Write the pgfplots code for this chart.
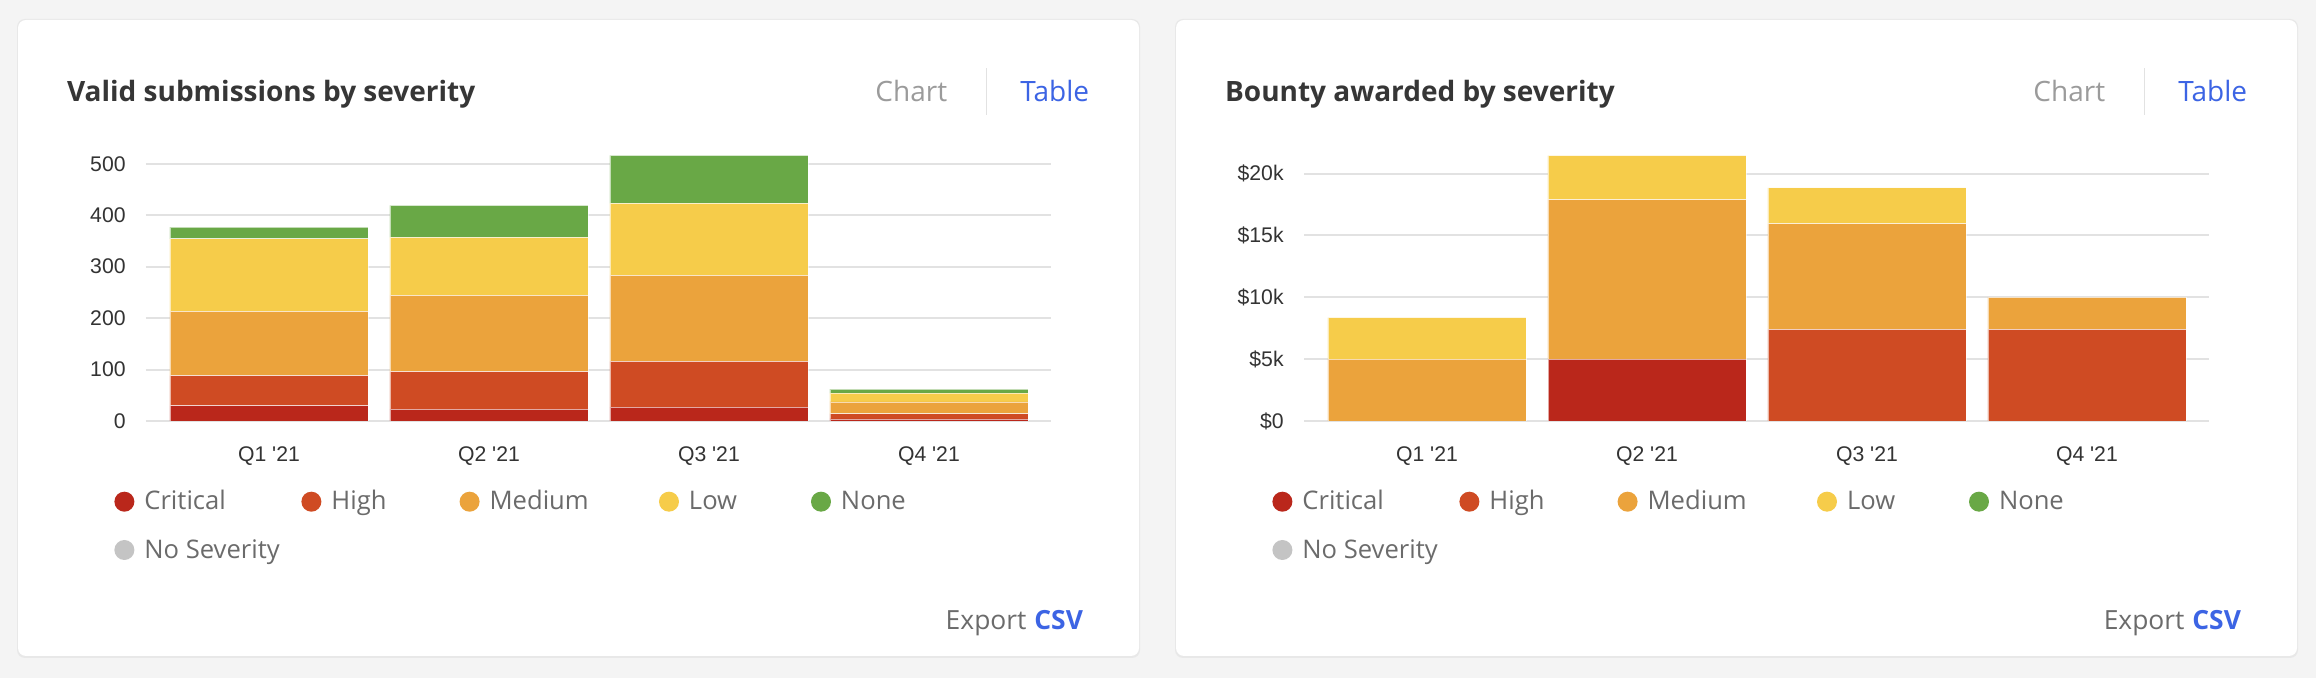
\documentclass[border=0pt]{standalone}
\usepackage{pgfplots}
\pgfplotsset{compat=1.18}
\usepackage{fontspec}
\newfontfamily\uifont{Open Sans}
\newfontfamily\tickfont{Liberation Sans}
\definecolor{critc}{HTML}{BA271B}
\definecolor{highc}{HTML}{CF4B23}
\definecolor{medc}{HTML}{EBA33C}
\definecolor{lowc}{HTML}{F6CC4A}
\definecolor{nonec}{HTML}{69A846}
\definecolor{nosevc}{HTML}{C4C4C4}
\definecolor{bluec}{HTML}{3C64E4}
\definecolor{titlec}{HTML}{363636}
\definecolor{legtext}{HTML}{6B6B6B}
\definecolor{chartc}{HTML}{9B9B9B}
\definecolor{gridc}{HTML}{E2E2E2}
\definecolor{bgc}{HTML}{F4F4F4}
\definecolor{tickc}{HTML}{333333}
\newcommand\legdot[1]{\addlegendimage{legend image code/.code={\fill[#1, draw=none] (0pt,0pt) circle (5pt); \path[draw=none, fill=none] (-5pt,0pt) -- (10pt,0pt);}}}
\pgfplotsset{
  cardaxis/.style={
    width=452.5pt, height=132.75pt, scale only axis, anchor=south west,
    xmin=-0.559, xmax=3.555, ymin=0,
    ybar stacked, bar width=0.9,
    xtick={0,1,2,3},
    xticklabels={Q1 \textquotesingle21,Q2 \textquotesingle21,Q3 \textquotesingle21,Q4 \textquotesingle21},
    scaled y ticks=false,
    ymajorgrids, grid style={line width=1pt, color=gridc},
    axis line style={draw=none}, major tick length=0pt,
    /pgf/number format/assume math mode=true,
    ticklabel style={font=\tickfont\fontsize{10.6}{12}\selectfont, text=tickc, inner sep=0pt},
    yticklabel style={anchor=east, xshift=-10pt},
    xticklabel style={anchor=north, yshift=-12.5pt},
    every axis plot/.append style={draw=white, draw opacity=0.6, line width=0.4pt},
    legend columns=5, legend cell align=left,
    legend style={at={(-0.03492,-0.2561)}, anchor=north west, draw=none, fill=none,
      inner sep=0pt, outer sep=0pt, font=\uifont\fontsize{12.8}{15}\selectfont, text=legtext,
      column sep=0pt, row sep=11.45pt,
      nodes={inner sep=0pt, text height=10.5pt, text depth=2.2pt}},
    legend entries={\makebox[78.5pt][l]{Critical},\makebox[64.1pt][l]{High},\makebox[84.7pt][l]{Medium},\makebox[61pt][l]{Low},None,No Severity},
  }
}
\begin{document}
\begin{tikzpicture}
\fill[bgc] (0pt,0pt) rectangle (1158pt,339pt);
% cards
\foreach \dx in {0pt,579pt}{
  \fill[black!9, rounded corners=4pt] ([xshift=\dx]8.5pt,10pt) rectangle ([xshift=\dx]570pt,329.5pt);
  \fill[white, rounded corners=4pt] ([xshift=\dx]9pt,11pt) rectangle ([xshift=\dx]569.5pt,329pt);
  \draw[gridc, line width=0.6pt] ([xshift=\dx]493.35pt,281.5pt) -- ([xshift=\dx]493.35pt,305pt);
  \node[anchor=base west, inner sep=0pt, text=chartc, font=\uifont\fontsize{14}{16}\selectfont] at ([xshift=\dx]437.5pt,288.15pt) {Chart};
  \node[anchor=base west, inner sep=0pt, text=bluec, font=\uifont\fontsize{14}{16}\selectfont] at ([xshift=\dx]510pt,288.15pt) {Table};
  \node[anchor=base east, inner sep=0pt, text=legtext, font=\uifont\fontsize{13.2}{15}\selectfont] at ([xshift=\dx]541.65pt,24pt) {Export\hspace{0.3em}\textcolor{bluec}{\bfseries CSV}};
}
\node[anchor=base west, inner sep=0pt, text=titlec, font=\uifont\bfseries\fontsize{14}{16}\selectfont] at (33.35pt,288.15pt) {Valid submissions by severity};
\node[anchor=base west, inner sep=0pt, text=titlec, font=\uifont\bfseries\fontsize{14}{16}\selectfont] at (612.35pt,288.15pt) {Bounty awarded by severity};

\begin{axis}[cardaxis, at={(73pt,128.5pt)}, ymax=516,
  ytick={0,100,200,300,400,500}, yticklabels={0,100,200,300,400,500}]
\addplot[fill=critc, forget plot] coordinates {(0,30) (1,23) (2,27) (3,4)};
\addplot[fill=highc, forget plot] coordinates {(0,58) (1,73) (2,89) (3,10)};
\addplot[fill=medc, forget plot] coordinates {(0,125) (1,148) (2,167) (3,23)};
\addplot[fill=lowc, forget plot] coordinates {(0,141) (1,113) (2,140) (3,17)};
\addplot[fill=nonec, forget plot] coordinates {(0,23) (1,62) (2,93) (3,8)};
\legdot{critc}\legdot{highc}\legdot{medc}\legdot{lowc}\legdot{nonec}\legdot{nosevc}
\end{axis}

\begin{axis}[cardaxis, at={(652pt,128.5pt)}, ymax=21460,
  ytick={0,5000,10000,15000,20000}, yticklabels={\$0,\$5k,\$10k,\$15k,\$20k}]
\addplot[fill=critc, forget plot] coordinates {(0,0) (1,5000) (2,0) (3,0)};
\addplot[fill=highc, forget plot] coordinates {(0,0) (1,0) (2,7400) (3,7400)};
\addplot[fill=medc, forget plot] coordinates {(0,5000) (1,12900) (2,8550) (3,2600)};
\addplot[fill=lowc, forget plot] coordinates {(0,3350) (1,3550) (2,2900) (3,0)};
\addplot[fill=nonec, forget plot] coordinates {(0,0) (1,0) (2,0) (3,0)};
\legdot{critc}\legdot{highc}\legdot{medc}\legdot{lowc}\legdot{nonec}\legdot{nosevc}
\end{axis}
\end{tikzpicture}
\end{document}
